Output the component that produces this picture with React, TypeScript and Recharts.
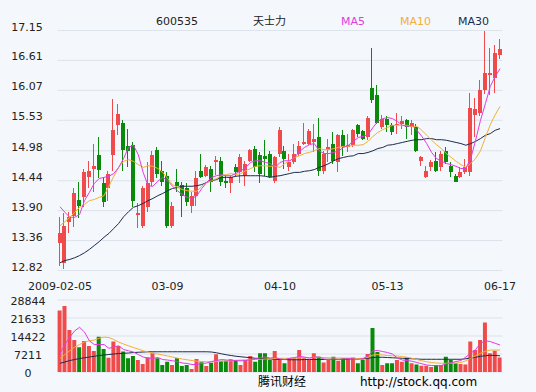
import { Bar, CartesianGrid, Cell, ComposedChart, Line, XAxis, YAxis } from "recharts";

const FONT = "'DejaVu Sans', Verdana, sans-serif";
const CJK = "'Noto Sans CJK SC', 'DejaVu Sans', sans-serif";
const BG = "#F4F7FB";
const GRID = "#DDE3EB";
const RED = "#F04B4B";
const GREEN = "#0A8A0A";
const MA5_COLOR = "#E03CE0";
const MA10_COLOR = "#F2B035";
const MA30_COLOR = "#1C2C4C";
const TEXT = "#222";

const DATES = [
  "2009-02-05", "02-06", "02-09", "02-10", "02-11", "02-12", "02-13", "02-16", "02-17", "02-18",
  "02-19", "02-20", "02-23", "02-24", "02-25", "02-26", "02-27",
  "03-02", "03-03", "03-04", "03-05", "03-06", "03-09", "03-10", "03-11", "03-12", "03-13",
  "03-16", "03-17", "03-18", "03-19", "03-20", "03-23", "03-24", "03-25", "03-26", "03-27",
  "03-30", "03-31",
  "04-01", "04-02", "04-03", "04-07", "04-08", "04-09", "04-10", "04-13", "04-14", "04-15",
  "04-16", "04-17", "04-20", "04-21", "04-22", "04-23", "04-24", "04-27", "04-28", "04-29", "04-30",
  "05-04", "05-05", "05-06", "05-07", "05-08", "05-11", "05-12", "05-13", "05-14", "05-15",
  "05-18", "05-19", "05-20", "05-21", "05-22", "05-25", "05-26", "05-27",
  "06-01", "06-02", "06-03", "06-04", "06-05", "06-08", "06-09", "06-10", "06-11", "06-12",
  "06-15", "06-16", "06-17",
];
const TICK_DATES = ["2009-02-05", "03-09", "04-10", "05-13", "06-17"];

// open, high, low, close
const OHLC: [number, number, number, number][] = [
  [13.31, 13.78, 12.91, 13.49], [12.95, 13.85, 12.84, 13.63], [13.69, 13.87, 13.49, 13.79],
  [13.81, 14.3, 13.6, 14.21], [14.1, 14.41, 13.76, 13.99], [14.14, 14.66, 13.96, 14.59],
  [14.5, 14.8, 14.3, 14.61], [14.66, 15.11, 14.23, 14.7], [14.91, 15.22, 14.48, 14.64],
  [14.39, 14.5, 13.96, 14.05], [14.3, 14.62, 14.08, 14.57], [14.9, 15.91, 14.62, 15.35],
  [15.44, 15.83, 15.26, 15.65], [15.49, 15.53, 14.62, 14.99], [15.06, 15.38, 14.68, 14.97],
  [15.08, 15.13, 13.96, 14.08], [13.82, 14.03, 13.58, 13.85], [13.63, 14.35, 13.58, 14.3],
  [13.96, 14.77, 13.87, 14.39], [14.41, 14.98, 14.35, 14.91], [15.0, 15.04, 14.48, 14.57],
  [14.62, 14.8, 14.35, 14.41], [14.53, 14.59, 13.58, 13.63], [13.63, 14.05, 13.58, 13.99],
  [14.41, 14.66, 14.23, 14.35], [14.37, 14.41, 13.78, 14.17], [14.3, 14.39, 13.99, 14.05],
  [13.99, 14.23, 13.85, 14.17], [14.17, 14.62, 13.99, 14.48], [14.61, 14.93, 14.48, 14.5],
  [14.53, 14.73, 14.5, 14.68], [14.66, 14.7, 14.23, 14.41], [14.78, 14.89, 14.55, 14.82],
  [14.8, 14.86, 14.35, 14.41], [14.44, 14.55, 14.3, 14.39], [14.39, 14.53, 14.21, 14.5],
  [14.68, 14.75, 14.53, 14.59], [14.59, 14.93, 14.39, 14.86], [14.53, 14.8, 14.35, 14.75],
  [14.8, 15.02, 14.77, 15.0], [15.02, 15.06, 14.59, 14.68], [14.91, 14.95, 14.39, 14.57],
  [14.89, 15.18, 14.53, 14.84], [14.93, 14.97, 14.48, 14.5], [14.44, 14.89, 14.39, 14.86],
  [14.93, 15.4, 14.86, 15.35], [14.98, 15.07, 14.66, 14.84], [14.68, 14.93, 14.62, 14.77],
  [14.77, 15.11, 14.75, 14.93], [14.93, 15.15, 14.89, 15.07], [15.11, 15.49, 15.08, 15.13],
  [15.11, 15.38, 15.08, 15.33], [15.13, 15.47, 14.95, 15.2], [15.22, 15.58, 14.53, 14.62],
  [14.62, 14.98, 14.57, 14.93], [15.0, 15.2, 14.77, 15.04], [15.11, 15.31, 14.75, 14.8],
  [14.77, 15.29, 14.59, 15.26], [15.27, 15.36, 14.89, 15.04], [15.04, 15.29, 14.95, 15.08],
  [15.08, 15.38, 15.04, 15.35], [15.44, 15.47, 15.22, 15.29], [15.33, 15.36, 15.17, 15.2],
  [15.22, 15.6, 15.17, 15.58], [16.12, 16.84, 15.85, 15.89], [15.98, 16.16, 15.47, 15.49],
  [15.4, 15.62, 15.38, 15.56], [15.56, 15.6, 15.31, 15.44], [15.44, 15.49, 15.26, 15.31],
  [15.44, 15.67, 15.29, 15.47], [15.47, 15.6, 15.38, 15.51], [15.53, 15.56, 15.2, 15.4],
  [15.4, 15.53, 15.26, 15.49], [15.4, 15.47, 14.95, 14.98], [14.8, 14.89, 14.71, 14.86],
  [14.5, 14.71, 14.48, 14.62], [14.68, 14.82, 14.62, 14.78], [14.8, 14.95, 14.59, 14.62],
  [14.68, 14.98, 14.62, 14.93], [14.98, 15.04, 14.75, 14.77], [14.71, 14.77, 14.5, 14.59],
  [14.53, 14.57, 14.41, 14.42], [14.51, 14.68, 14.48, 14.59], [14.59, 14.84, 14.57, 14.68],
  [14.59, 16.03, 14.53, 15.76], [15.62, 15.94, 15.22, 15.74], [15.67, 16.25, 15.6, 16.07],
  [16.07, 17.15, 16.0, 16.39], [16.34, 16.84, 15.98, 16.39], [16.3, 16.88, 16.03, 16.75],
  [16.7, 17.0, 16.64, 16.81],
];

const MA5 = [
  13.97, 13.87, 13.78, 13.78, 13.83, 14.08, 14.23, 14.39, 14.48, 14.5,
  14.52, 14.57, 14.68, 14.84, 15.04, 15.08, 14.91, 14.59, 14.35, 14.34,
  14.43, 14.5, 14.44, 14.34, 14.26, 14.19, 14.14, 14.12, 14.17, 14.3,
  14.41, 14.5, 14.53, 14.55, 14.53, 14.53, 14.57, 14.62, 14.68, 14.77,
  14.8, 14.8, 14.77, 14.75, 14.68, 14.77, 14.8, 14.8, 14.86, 14.97,
  15.04, 15.09, 15.11, 14.98, 14.93, 14.93, 14.95, 14.98, 15.04, 15.08,
  15.15, 15.22, 15.24, 15.27, 15.4, 15.51, 15.56, 15.58, 15.56, 15.51,
  15.44, 15.42, 15.44, 15.35, 15.24, 15.11, 14.95, 14.84, 14.79, 14.75,
  14.73, 14.7, 14.66, 14.66, 14.84, 15.17, 15.53, 15.83, 16.14, 16.32,
  16.46,
];
const MA10 = [
  13.63, 13.7, 13.78, 13.87, 13.96, 14.01, 14.08, 14.1, 14.14, 14.17,
  14.34, 14.52, 14.68, 14.79, 14.82, 14.79, 14.73, 14.68, 14.71, 14.7,
  14.66, 14.59, 14.48, 14.37, 14.32, 14.28, 14.26, 14.25, 14.25, 14.34,
  14.41, 14.44, 14.48, 14.53, 14.55, 14.57, 14.55, 14.57, 14.62, 14.66,
  14.7, 14.71, 14.71, 14.7, 14.7, 14.68, 14.75, 14.8, 14.86, 14.89,
  14.93, 14.95, 14.98, 15.02, 15.0, 15.0, 15.02, 15.04, 15.06, 15.06,
  15.08, 15.08, 15.09, 15.15, 15.24, 15.31, 15.36, 15.4, 15.44, 15.44,
  15.44, 15.44, 15.42, 15.42, 15.35, 15.26, 15.17, 15.09, 15.02, 14.93,
  14.86, 14.79, 14.73, 14.68, 14.75, 14.84, 14.98, 15.22, 15.45, 15.63,
  15.78,
];
const MA30 = [
  12.96, 13.0, 13.02, 13.05, 13.09, 13.14, 13.2, 13.27, 13.34, 13.42,
  13.49, 13.58, 13.67, 13.79, 13.88, 13.96, 13.99, 14.03, 14.08, 14.12,
  14.17, 14.21, 14.26, 14.3, 14.32, 14.34, 14.34, 14.34, 14.35, 14.37,
  14.41, 14.44, 14.46, 14.5, 14.5, 14.5, 14.52, 14.53, 14.53, 14.53,
  14.53, 14.53, 14.52, 14.5, 14.52, 14.53, 14.55, 14.57, 14.59, 14.59,
  14.61, 14.62, 14.64, 14.68, 14.71, 14.75, 14.8, 14.84, 14.86, 14.88,
  14.89, 14.93, 14.93, 14.95, 14.98, 15.02, 15.04, 15.08, 15.09, 15.11,
  15.13, 15.15, 15.17, 15.18, 15.18, 15.2, 15.2, 15.18, 15.18, 15.17,
  15.15, 15.13, 15.11, 15.08, 15.11, 15.15, 15.2, 15.26, 15.29, 15.35,
  15.38,
];

const VOLUME = [
  24600, 26400, 16800, 12800, 9900, 12400, 10400, 8400, 14100, 9200,
  5700, 12200, 10400, 8200, 5500, 6400, 4800, 3200, 5900, 7700,
  5500, 2800, 4100, 2800, 5500, 2400, 2800, 1200, 5200, 3900,
  2400, 3700, 7100, 4500, 4500, 5100, 4500, 2800, 4800, 6400,
  4100, 7500, 7500, 4800, 8400, 4800, 3500, 5500, 5500, 8800,
  5500, 4800, 7500, 6100, 3800, 4800, 6100, 4500, 5500, 5100,
  5800, 3500, 5000, 7200, 17600, 8000, 2800, 3500, 3500, 4800,
  4100, 5800, 3500, 3000, 2500, 2500, 2000, 2800, 2800, 6100,
  4800, 3500, 3200, 3000, 12200, 8800, 12800, 19800, 7500, 8500,
  5800,
];
const VOL_MA5 = [
  7500, 11000, 14000, 16500, 17900, 16000, 12500, 11000, 11000, 11000,
  9500, 10000, 10500, 9000, 8500, 8000, 7000, 6000, 5500, 5500,
  5800, 5000, 4800, 4500, 4200, 3600, 3400, 3000, 3000, 3400,
  3600, 4200, 4600, 5000, 4800, 4700, 4600, 4500, 4600, 5000,
  5200, 5800, 6000, 5600, 5800, 5200, 5000, 5500, 5800, 6200,
  6000, 5500, 6000, 6000, 5200, 5000, 5200, 5000, 5200, 5400,
  5200, 5000, 5400, 6500, 8500, 8600, 8200, 7800, 7200, 5600,
  4800, 4600, 4300, 3800, 3300, 2800, 2600, 2500, 2600, 3300,
  3700, 4200, 4600, 6000, 7500, 9000, 11500, 12500, 12200, 11500,
  10800,
];
const VOL_MA10 = [
  5500, 7000, 8500, 10000, 11000, 12000, 12500, 12800, 13500, 14000,
  13800, 13000, 12000, 11200, 10500, 9800, 9200, 8500, 8000, 7500,
  7200, 6800, 6400, 6000, 5600, 5200, 4900, 4600, 4300, 4200,
  4100, 4100, 4200, 4300, 4400, 4500, 4700, 4800, 4900, 5000,
  5000, 5100, 5200, 5300, 5400, 5500, 5500, 5500, 5600, 5700,
  5800, 5800, 5900, 5900, 5800, 5700, 5600, 5600, 5600, 5600,
  5500, 5400, 5500, 5900, 6800, 7000, 6800, 6600, 6500, 6400,
  6200, 5900, 5500, 5000, 4500, 4100, 3800, 3600, 3500, 3500,
  3500, 3600, 3800, 4500, 5500, 6500, 7500, 8300, 8800, 8800,
  8800,
];
const VOL_MA30 = [
  3500, 4000, 4600, 5000, 5400, 5700, 6000, 6300, 6600, 6800,
  7000, 7200, 7400, 7500, 7600, 7800, 7900, 8000, 8100, 8100,
  8100, 8100, 8100, 8100, 8100, 8100, 8100, 8100, 8100, 8100,
  8100, 8000, 7700, 7300, 6900, 6600, 6300, 6100, 5900, 5700,
  5500, 5400, 5300, 5200, 5100, 5000, 5000, 4900, 4900, 4900,
  5000, 5000, 5000, 5000, 5000, 5100, 5100, 5100, 5100, 5200,
  5300, 5400, 5400, 5500, 5800, 5900, 5900, 5800, 5700, 5600,
  5500, 5400, 5300, 5200, 5100, 5100, 5100, 5100, 5100, 5100,
  5100, 5100, 5100, 5300, 5600, 5900, 6300, 6500, 6700, 6600,
  6500,
];

const PRICE_TICKS = [12.82, 13.36, 13.9, 14.44, 14.98, 15.53, 16.07, 16.61, 17.15];
const VOL_TICKS = [0, 7211, 14422, 21633, 28844];

const rows = DATES.map((date, i) => {
  const [open, high, low, close] = OHLC[i];
  return {
    date,
    open,
    high,
    low,
    close,
    range: [low, high],
    ma5: MA5[i],
    ma10: MA10[i],
    ma30: MA30[i],
    volume: VOLUME[i],
    vma5: VOL_MA5[i],
    vma10: VOL_MA10[i],
    vma30: VOL_MA30[i],
  };
});

function Candle(props: any) {
  const { x, y, width, height, payload } = props;
  if (x == null || y == null) return null;
  const top = Math.min(y, y + height);
  const h = Math.abs(height);
  const { open, high, low, close } = payload;
  const color = close >= open ? RED : GREEN;
  const k = h / (high - low || 1);
  const bodyTop = top + (high - Math.max(open, close)) * k;
  const bodyH = Math.max((Math.max(open, close) - Math.min(open, close)) * k, 1);
  const left = Math.round(x);
  return (
    <g shapeRendering="crispEdges">
      <rect x={left + 1} y={top} width={1} height={h} fill={color} />
      <rect x={left} y={bodyTop} width={width} height={bodyH} fill={color} />
    </g>
  );
}

function PriceTick({ y, payload }: any) {
  return (
    <text x={27} y={y} textAnchor="middle" fontSize={11} fontFamily={FONT} fill={TEXT}>
      {payload.value.toFixed(2)}
    </text>
  );
}

function VolTick({ y, payload }: any) {
  return (
    <text x={28} y={y + 5} textAnchor="middle" fontSize={11} fontFamily={FONT} fill={TEXT}>
      {payload.value}
    </text>
  );
}

function DateTick({ x, payload }: any) {
  return (
    <text x={x} y={290} textAnchor="middle" fontSize={11} fontFamily={FONT} fill={TEXT}>
      {payload.value}
    </text>
  );
}

export default function App() {
  return (
    <div style={{ position: "absolute", left: 0, top: 0, width: 536, height: 392, background: BG, overflow: "hidden" }}>
      <div style={{ position: "absolute", left: 0, top: 0 }}>
        <ComposedChart
          width={536}
          height={292}
          data={rows}
          margin={{ top: 30.5, right: 33.5, bottom: 0, left: 0 }}
          barCategoryGap={0}
        >
          <CartesianGrid vertical={false} stroke={GRID} />
          <XAxis
            dataKey="date"
            ticks={TICK_DATES}
            interval={0}
            height={21.5}
            tickLine={false}
            axisLine={false}
            tick={<DateTick />}
          />
          <YAxis
            domain={[12.82, 17.15]}
            ticks={PRICE_TICKS}
            interval={0}
            allowDataOverflow
            width={57.6}
            tickLine={false}
            axisLine={false}
            tick={<PriceTick />}
          />
          <Bar dataKey="range" barSize={4} shape={<Candle />} isAnimationActive={false} />
          <Line dataKey="ma30" stroke={MA30_COLOR} strokeWidth={1} dot={false} isAnimationActive={false} />
          <Line dataKey="ma10" stroke={MA10_COLOR} strokeWidth={1} dot={false} isAnimationActive={false} />
          <Line dataKey="ma5" stroke={MA5_COLOR} strokeWidth={1} dot={false} isAnimationActive={false} />
        </ComposedChart>
      </div>
      <div style={{ position: "absolute", left: 0, top: 290 }}>
        <ComposedChart
          width={536}
          height={92}
          data={rows}
          margin={{ top: 10, right: 33.5, bottom: 10, left: 0 }}
          barCategoryGap={0}
        >
          <CartesianGrid vertical={false} stroke={GRID} />
          <XAxis dataKey="date" hide />
          <YAxis
            domain={[0, 28844]}
            ticks={VOL_TICKS}
            interval={0}
            allowDataOverflow
            width={57.6}
            tickLine={false}
            axisLine={false}
            tick={<VolTick />}
          />
          <Bar dataKey="volume" barSize={4} isAnimationActive={false}>
            {rows.map((r) => (
              <Cell key={r.date} fill={r.close >= r.open ? RED : GREEN} />
            ))}
          </Bar>
          <Line dataKey="vma30" stroke={MA30_COLOR} strokeWidth={1} dot={false} isAnimationActive={false} />
          <Line dataKey="vma10" stroke={MA10_COLOR} strokeWidth={1} dot={false} isAnimationActive={false} />
          <Line dataKey="vma5" stroke={MA5_COLOR} strokeWidth={1} dot={false} isAnimationActive={false} />
        </ComposedChart>
      </div>
      <svg width={536} height={392} style={{ position: "absolute", left: 0, top: 0, pointerEvents: "none" }}>
        <text x={177} y={25} textAnchor="middle" fontSize={11} fontFamily={FONT} fill={TEXT}>600535</text>
        <text x={253} y={25} fontSize={11} fontFamily={CJK} fill={TEXT}>天士力</text>
        <text x={341} y={25} fontSize={11} fontFamily={FONT} fill={MA5_COLOR}>MA5</text>
        <text x={400} y={25} fontSize={11} fontFamily={FONT} fill={MA10_COLOR}>MA10</text>
        <text x={458} y={25} fontSize={11} fontFamily={FONT} fill={MA30_COLOR}>MA30</text>
        <text x={258} y={386} fontSize={12} fontFamily={CJK} fill="#000">腾讯财经</text>
        <text x={360} y={386} fontSize={12} fontFamily={FONT} fill="#000">http://stock.qq.com</text>
      </svg>
    </div>
  );
}
